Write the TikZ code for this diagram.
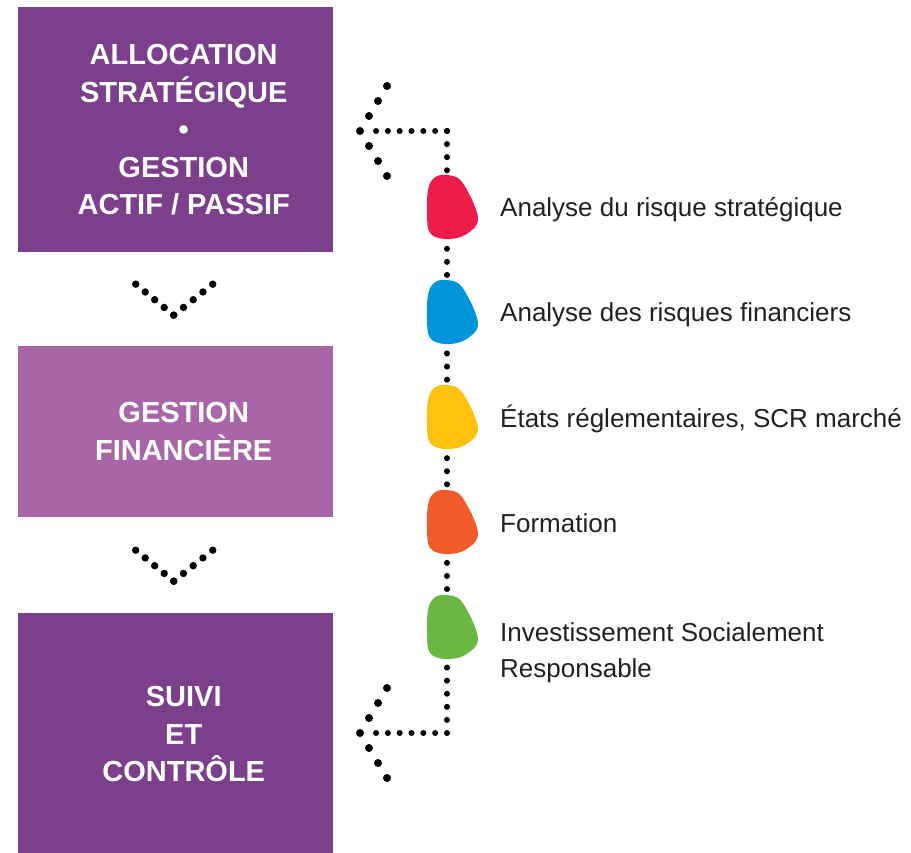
\documentclass[tikz,border=0pt]{standalone}
\usepackage{fontspec}
\setmainfont{Liberation Sans}
\usetikzlibrary{positioning, calc}

\definecolor{violetfonce}{RGB}{123,63,140}
\definecolor{violetclair}{RGB}{168,102,168}
\definecolor{rouge}{RGB}{237,27,74}
\definecolor{bleu}{RGB}{0,148,217}
\definecolor{jaune}{RGB}{255,194,14}
\definecolor{orange}{RGB}{241,90,41}
\definecolor{vert}{RGB}{107,183,68}
\definecolor{encre}{RGB}{35,31,32}

\tikzset{
	bloc/.style={anchor=north west, minimum width=315pt, inner sep=0pt},
	titre/.style={inner sep=0pt, align=center, text=white, font=\bfseries\fontsize{29}{37.5}\selectfont},
	legende/.style={anchor=base west, inner sep=0pt, align=left, text=encre, font=\fontsize{26}{36}\selectfont},
	pointille/.style={line width=6pt, line cap=round},
}

\begin{document}
\begin{tikzpicture}[x=1pt, y=-1pt]
	\useasboundingbox (0,0) rectangle (911,853);

	% les trois blocs
	\node [bloc, fill=violetfonce, minimum height=245pt] (alloc) at (18,7) {};
	\node [bloc, fill=violetclair, minimum height=171pt] (gestion) at (18,346) {};
	\node [bloc, fill=violetfonce, minimum height=240pt] (suivi) at (18,613) {};
	\node [titre] (allocT) at ($(alloc.center)+(8,0)$) {ALLOCATION\\STRATÉGIQUE\\•\\GESTION\\ACTIF / PASSIF};
	\node [titre] (gestionT) at ($(gestion.center)+(8,0)$) {GESTION\\FINANCIÈRE};
	\node [titre] (suiviT) at ($(suivi.center)+(8,1)$) {SUIVI\\ET\\CONTRÔLE};

	% chevrons entre les blocs
	\coordinate (v1) at ($(alloc.south)!0.5!(gestion.north)+(-2,16)$);
	\coordinate (v2) at ($(gestion.south)!0.5!(suivi.north)+(-2,16)$);
	\foreach \v in {v1, v2} {
		\foreach \t in {0, 0.25, 0.5, 0.75, 1} {
			\fill ($(\v)+(-38*\t,-31*\t)$) circle (3.7);
			\fill ($(\v)+(39*\t,-31*\t)$) circle (3.7);
		}
	}

	% ligne en pointilles
	\coordinate (ctop) at (447,131);
	\coordinate (cbot) at (447,733);
	\coordinate (f1) at (360,131);
	\coordinate (f2) at (360,733);
	\draw [pointille, dash pattern=on 0pt off 11.83pt] (ctop) -- ($(f1)+(16,0)$);
	\draw [pointille, dash pattern=on 0pt off 11.83pt] (cbot) -- ($(f2)+(16,0)$);
	\draw [pointille, dash pattern=on 0pt off 13.087pt] (ctop) -- (cbot);
	\foreach \f in {f1, f2} {
		\fill (\f) circle (4);
		\foreach \t in {0.333, 0.667, 1} {
			\fill ($(\f)+(27*\t,-45*\t)$) circle (4);
			\fill ($(\f)+(27*\t,45*\t)$) circle (4);
		}
	}

	% taches de couleur
	\foreach \c/\y/\n in {rouge/207/1, bleu/312/2, jaune/417/3, orange/522/4, vert/627/5} {
		\fill [\c, shift={(450,\y)}] plot [smooth cycle, tension=0.6] coordinates {(-4,-32) (12,-25) (28,11) (15,28) (-5,32) (-20,26) (-23,8) (-22,-17) (-16,-29)};
		\coordinate (tache\n) at (450,\y);
	}

	% legendes
	\node [legende] (leg1) at ($(tache1)+(50,10)$) {Analyse du risque stratégique};
	\node [legende] (leg2) at ($(tache2)+(50,10)$) {Analyse des risques financiers};
	\node [legende] (leg3) at ($(tache3)+(50,10)$) {États réglementaires, SCR marché};
	\node [legende] (leg4) at ($(tache4)+(50,10)$) {Formation};
	\node [legende] (leg5) at ($(tache5)+(50,50)$) {Investissement Socialement\\Responsable};
\end{tikzpicture}
\end{document}
